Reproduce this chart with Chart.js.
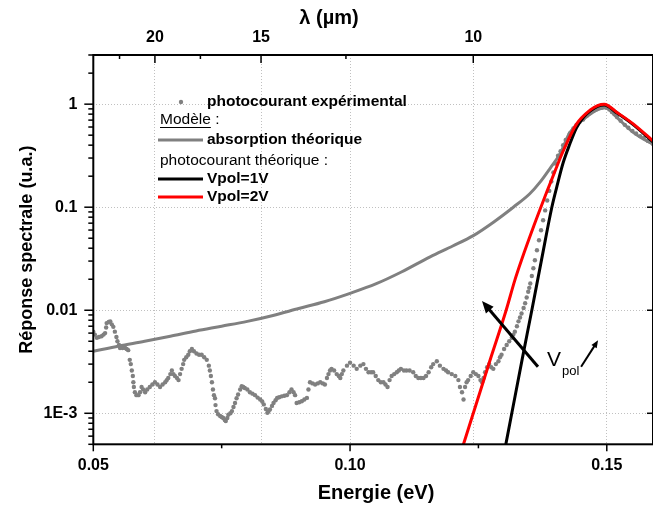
<!DOCTYPE html>
<html>
<head>
<meta charset="utf-8">
<script src="https://cdn.jsdelivr.net/npm/chart.js@4"></script>
<style>
  html, body { margin: 0; padding: 0; background: #fff; }
  canvas { display: block; }
</style>
</head>
<body>
<canvas id="graphe" width="653" height="509"></canvas>
<script>
// conversion E (eV) <-> lambda (um)
const HC = 1.24;

const energyTicks = [0.05, 0.10, 0.15];
const energyMinor = [0.075, 0.125];
const lambdaTicks = [20, 15, 10];
const lambdaMinor = [22.5, 17.5, 12.5];
const respTicks = [0.001, 0.01, 0.1, 1];
const respLabels = ["1E-3", "0.01", "0.1", "1"];

// photocourant experimental
const expEnergy = [
  0.0500, 0.0503, 0.0507, 0.0511, 0.0516, 0.0520, 0.0523, 0.0525, 0.0526, 0.0530,
  0.0533, 0.0536, 0.0539, 0.0542, 0.0545, 0.0547, 0.0550, 0.0552, 0.0557, 0.0562,
  0.0565, 0.0568, 0.0571, 0.0573, 0.0575, 0.0577, 0.0578, 0.0579, 0.0581, 0.0584,
  0.0588, 0.0591, 0.0594, 0.0597, 0.0601, 0.0605, 0.0610, 0.0615, 0.0620, 0.0625,
  0.0630, 0.0635, 0.0640, 0.0643, 0.0646, 0.0650, 0.0653, 0.0656, 0.0659, 0.0663,
  0.0666, 0.0669, 0.0672, 0.0675, 0.0677, 0.0681, 0.0685, 0.0688, 0.0692, 0.0696,
  0.0701, 0.0706, 0.0711, 0.0716, 0.0721, 0.0725, 0.0727, 0.0729, 0.0731, 0.0733,
  0.0735, 0.0737, 0.0738, 0.0740, 0.0743, 0.0747, 0.0750, 0.0753, 0.0756, 0.0758,
  0.0761, 0.0763, 0.0767, 0.0770, 0.0773, 0.0776, 0.0779, 0.0782, 0.0786, 0.0789,
  0.0792, 0.0795, 0.0800, 0.0805, 0.0810, 0.0815, 0.0820, 0.0825, 0.0829, 0.0832,
  0.0836, 0.0839, 0.0841, 0.0844, 0.0848, 0.0851, 0.0855, 0.0858, 0.0862, 0.0867,
  0.0872, 0.0877, 0.0882, 0.0886, 0.0890, 0.0893, 0.0896, 0.0901, 0.0906, 0.0911,
  0.0916, 0.0919, 0.0922, 0.0927, 0.0932, 0.0937, 0.0942, 0.0947, 0.0951, 0.0955,
  0.0958, 0.0961, 0.0964, 0.0969, 0.0974, 0.0978, 0.0981, 0.0984, 0.0987, 0.0994,
  0.1000, 0.1007, 0.1013, 0.1020, 0.1026, 0.1031, 0.1036, 0.1041, 0.1045, 0.1050,
  0.1055, 0.1060, 0.1065, 0.1069, 0.1073, 0.1077, 0.1081, 0.1086, 0.1091, 0.1095,
  0.1099, 0.1105, 0.1110, 0.1116, 0.1123, 0.1128, 0.1133, 0.1138, 0.1143, 0.1148,
  0.1153, 0.1158, 0.1162, 0.1169, 0.1175, 0.1182, 0.1187, 0.1191, 0.1198, 0.1205,
  0.1211, 0.1214, 0.1218, 0.1221, 0.1224, 0.1227, 0.1230, 0.1235, 0.1240, 0.1245,
  0.1250, 0.1254, 0.1257, 0.1260, 0.1263, 0.1267, 0.1271, 0.1275, 0.1279, 0.1284,
  0.1289, 0.1292, 0.1295, 0.1300, 0.1305, 0.1310, 0.1315, 0.1318, 0.1321, 0.1325,
  0.1328, 0.1331, 0.1334, 0.1338, 0.1341, 0.1344, 0.1347, 0.1349, 0.1351, 0.1354,
  0.1357, 0.1360, 0.1364, 0.1368, 0.1372, 0.1376, 0.1380, 0.1384, 0.1388, 0.1392,
  0.1396, 0.1400, 0.1405, 0.1410, 0.1415, 0.1420, 0.1428, 0.1435, 0.1441, 0.1447,
  0.1454, 0.1461, 0.1468, 0.1474, 0.1480, 0.1485, 0.1490, 0.1495, 0.1500, 0.1505,
  0.1510, 0.1515, 0.1520, 0.1527, 0.1535, 0.1542, 0.1550, 0.1557, 0.1565, 0.1572,
  0.1580, 0.1585, 0.1590
];
const expResp = [
  0.0062, 0.0058, 0.0054, 0.0055, 0.0056, 0.0058, 0.0060, 0.0068, 0.0075, 0.0077,
  0.0078, 0.0073, 0.0069, 0.0062, 0.0055, 0.0050, 0.0046, 0.0043, 0.0043, 0.0043,
  0.0042, 0.0041, 0.0033, 0.0030, 0.0026, 0.0023, 0.0020, 0.0018, 0.0016, 0.0015,
  0.0015, 0.0016, 0.0018, 0.0017, 0.0016, 0.0017, 0.0018, 0.0019, 0.0020, 0.0019,
  0.0018, 0.0019, 0.0020, 0.0021, 0.0022, 0.0024, 0.0026, 0.0024, 0.0023, 0.0022,
  0.0021, 0.0024, 0.0027, 0.0030, 0.0033, 0.0035, 0.0037, 0.0040, 0.0042, 0.0040,
  0.0038, 0.0037, 0.0037, 0.0035, 0.0033, 0.0029, 0.0026, 0.0023, 0.0020, 0.0017,
  0.0015, 0.0014, 0.0012, 0.00105, 0.00098, 0.00094, 0.00092, 0.00090, 0.00086, 0.00084,
  0.00090, 0.00097, 0.0010, 0.00105, 0.00115, 0.00126, 0.0014, 0.00152, 0.0017, 0.00183,
  0.0018, 0.00176, 0.0017, 0.0016, 0.00155, 0.0015, 0.00142, 0.00136, 0.0013, 0.00122,
  0.0011, 0.00101, 0.00104, 0.00109, 0.00118, 0.00126, 0.00134, 0.00141, 0.00143, 0.00146,
  0.00148, 0.0015, 0.0016, 0.0017, 0.0016, 0.0015, 0.00126, 0.00128, 0.00131, 0.00136,
  0.00141, 0.0017, 0.0020, 0.00195, 0.0019, 0.00195, 0.0020, 0.00195, 0.0019, 0.0022,
  0.0024, 0.0026, 0.0027, 0.0026, 0.0024, 0.0023, 0.0022, 0.0024, 0.0026, 0.0029,
  0.0031, 0.0029, 0.0027, 0.0029, 0.0030, 0.0027, 0.0025, 0.0025, 0.0025, 0.0023,
  0.0021, 0.0020, 0.0020, 0.0019, 0.0018, 0.0021, 0.0023, 0.0024, 0.0025, 0.0026,
  0.0027, 0.0026, 0.0026, 0.0026, 0.0025, 0.0023, 0.0022, 0.0022, 0.0022, 0.0023,
  0.0025, 0.0028, 0.0030, 0.0032, 0.0029, 0.0027, 0.0026, 0.0025, 0.0024, 0.0023,
  0.0021, 0.0018, 0.0016, 0.00136, 0.0018, 0.0020, 0.0021, 0.0023, 0.0025, 0.0024,
  0.0023, 0.0021, 0.0020, 0.0022, 0.0025, 0.0028, 0.0030, 0.0028, 0.0027, 0.0030,
  0.0032, 0.0035, 0.0037, 0.0042, 0.0046, 0.0050, 0.0054, 0.0058, 0.0062, 0.0070,
  0.0078, 0.0085, 0.0093, 0.0105, 0.0117, 0.0133, 0.0151, 0.0165, 0.0182, 0.0215,
  0.0256, 0.0306, 0.0382, 0.0478, 0.0597, 0.0746, 0.0931, 0.116, 0.144, 0.178,
  0.217, 0.265, 0.316, 0.35, 0.40, 0.45, 0.52, 0.58, 0.63, 0.67,
  0.71, 0.77, 0.82, 0.86, 0.89, 0.91, 0.92, 0.93, 0.92, 0.89,
  0.84, 0.80, 0.75, 0.69, 0.63, 0.59, 0.55, 0.52, 0.49, 0.47,
  0.44, 0.43, 0.41
];

// absorption theorique
const absEnergy = [0.05, 0.055, 0.06, 0.065, 0.07, 0.075, 0.08, 0.085, 0.09, 0.095,
  0.10, 0.105, 0.11, 0.1156, 0.12, 0.124, 0.128, 0.1318, 0.135, 0.137,
  0.139, 0.1409, 0.1428, 0.1454, 0.1487, 0.1497, 0.152, 0.1552, 0.1571, 0.159];
const absResp = [0.0040, 0.0045, 0.0050, 0.0056, 0.0063, 0.0070, 0.0078, 0.0089, 0.0104, 0.0121,
  0.0146, 0.018, 0.0235, 0.033, 0.042, 0.053, 0.072, 0.10, 0.135, 0.175,
  0.24, 0.33, 0.53, 0.71, 0.91, 0.93, 0.74, 0.53, 0.46, 0.41];

// photocourant theorique Vpol=1V
const v1Energy = [0.1302, 0.1315, 0.1335, 0.1354, 0.1373, 0.1393, 0.1403, 0.1415, 0.1428, 0.1441,
  0.1455, 0.1468, 0.1482, 0.1495, 0.152, 0.1552, 0.159];
const v1Resp = [0.00046, 0.001, 0.0033, 0.01, 0.031, 0.1, 0.16, 0.27, 0.41, 0.59,
  0.75, 0.86, 0.95, 0.98, 0.82, 0.63, 0.43];

// photocourant theorique Vpol=2V
const v2Energy = [0.1216, 0.124, 0.1272, 0.1304, 0.1321, 0.1334, 0.1358, 0.1383, 0.140, 0.1415,
  0.1441, 0.1468, 0.1482, 0.1495, 0.152, 0.1552, 0.159];
const v2Resp = [0.00042, 0.001, 0.0032, 0.010, 0.0196, 0.0307, 0.066, 0.14, 0.23, 0.35,
  0.64, 0.88, 0.97, 1.0, 0.83, 0.64, 0.44];

const pts = (xs, ys) => xs.map((v, i) => ({x: v, y: ys[i]}));

const GRIS = "#808080";
const FONT = "'Liberation Sans', Arial, sans-serif";

const decor = {
  id: "decor",
  afterDatasetsDraw(chart) {
    const {ctx, chartArea: a, scales} = chart;
    const x = scales.x, y = scales.y, xt = scales.xTop;
    ctx.save();
    ctx.strokeStyle = "#000";
    ctx.lineWidth = 1.5;
    const trait = (x1, y1, x2, y2) => { ctx.beginPath(); ctx.moveTo(x1, y1); ctx.lineTo(x2, y2); ctx.stroke(); };

    energyTicks.forEach(v => { const p = x.getPixelForValue(v); trait(p, a.bottom, p, a.bottom + 7); });
    energyMinor.forEach(v => { const p = x.getPixelForValue(v); trait(p, a.bottom, p, a.bottom + 4); });
    lambdaTicks.forEach(l => { const p = xt.getPixelForValue(HC / l); trait(p, a.top, p, a.top + 8); });
    lambdaMinor.forEach(l => { const p = xt.getPixelForValue(HC / l); trait(p, a.top, p, a.top + 4); });
    for (let e = -4; e <= 0; e++) {
      for (let k = 1; k <= 9; k++) {
        const v = k * Math.pow(10, e);
        if (v < y.min || v > y.max * 1.0001) continue;
        const p = y.getPixelForValue(v);
        trait(a.left - (k === 1 ? 9 : 5), p, a.left, p);
        if (k === 1) trait(a.right - 6, p, a.right, p);
      }
    }
    ctx.lineWidth = 2;
    ctx.strokeRect(a.left, a.top, a.right - a.left, a.bottom - a.top);

    // titres
    ctx.fillStyle = "#000";
    ctx.textAlign = "center";
    ctx.textBaseline = "middle";
    ctx.font = "bold 20px " + FONT;
    ctx.fillText("Energie (eV)", 376, 493);
    ctx.fillText("λ (µm)", 329, 18);
    ctx.font = "bold 18px " + FONT;
    ctx.save();
    ctx.translate(27, (a.top + a.bottom) / 2);
    ctx.rotate(-Math.PI / 2);
    ctx.fillText("Réponse spectrale (u.a.)", 0, 0);
    ctx.restore();

    // legende
    ctx.textAlign = "left";
    ctx.font = "bold 15.5px " + FONT;
    ctx.fillStyle = GRIS;
    ctx.beginPath(); ctx.arc(181, 102, 2.2, 0, 2 * Math.PI); ctx.fill();
    ctx.fillStyle = "#000";
    ctx.fillText("photocourant expérimental", 207, 102);
    ctx.font = "15.5px " + FONT;
    ctx.fillText("Modèle :", 160, 120);
    const wMod = ctx.measureText("Modèle").width;
    ctx.lineWidth = 1;
    trait(160, 127.5, 160 + wMod, 127.5);
    ctx.fillText("photocourant théorique :", 160, 161);
    const ligne = (yy, col) => { ctx.strokeStyle = col; ctx.lineWidth = 3; trait(158, yy, 203, yy); };
    ligne(140, GRIS);
    ligne(179, "#000");
    ligne(197, "#f00");
    ctx.font = "bold 15.5px " + FONT;
    ctx.fillText("absorption théorique", 207, 140);
    ctx.fillText("Vpol=1V", 207, 179);
    ctx.fillText("Vpol=2V", 207, 197);

    // fleches Vpol
    const fleche = (x1, y1, x2, y2, w, L) => {
      const px1 = x.getPixelForValue(x1), py1 = y.getPixelForValue(y1);
      const px2 = x.getPixelForValue(x2), py2 = y.getPixelForValue(y2);
      const ang = Math.atan2(py2 - py1, px2 - px1);
      ctx.strokeStyle = "#000"; ctx.fillStyle = "#000"; ctx.lineWidth = w;
      trait(px1, py1, px2 - Math.cos(ang) * L * 0.6, py2 - Math.sin(ang) * L * 0.6);
      ctx.beginPath();
      ctx.moveTo(px2, py2);
      ctx.lineTo(px2 - L * Math.cos(ang - 0.4), py2 - L * Math.sin(ang - 0.4));
      ctx.lineTo(px2 - L * Math.cos(ang + 0.4), py2 - L * Math.sin(ang + 0.4));
      ctx.closePath(); ctx.fill();
    };
    fleche(0.1366, 0.00283, 0.1257, 0.0123, 3, 13);
    fleche(0.1450, 0.00283, 0.1483, 0.0051, 2, 8);

    ctx.fillStyle = "#000";
    ctx.textBaseline = "alphabetic";
    ctx.font = "21px " + FONT;
    ctx.fillText("V", 547, 366);
    ctx.font = "13px " + FONT;
    ctx.fillText("pol", 562, 375);
    ctx.restore();
  }
};

new Chart(document.getElementById("graphe"), {
  type: "line",
  data: {
    datasets: [
      {
        label: "photocourant expérimental",
        data: pts(expEnergy, expResp),
        showLine: false,
        pointRadius: 2.2,
        pointBackgroundColor: GRIS,
        pointBorderWidth: 0,
        order: 4
      },
      {
        label: "absorption théorique",
        data: pts(absEnergy, absResp),
        borderColor: GRIS,
        borderWidth: 3,
        pointRadius: 0,
        cubicInterpolationMode: "monotone",
        order: 3
      },
      {
        label: "Vpol=1V",
        data: pts(v1Energy, v1Resp),
        borderColor: "#000",
        borderWidth: 3,
        pointRadius: 0,
        cubicInterpolationMode: "monotone",
        order: 2
      },
      {
        label: "Vpol=2V",
        data: pts(v2Energy, v2Resp),
        borderColor: "#f00",
        borderWidth: 3,
        pointRadius: 0,
        cubicInterpolationMode: "monotone",
        order: 1
      }
    ]
  },
  options: {
    responsive: false,
    animation: false,
    devicePixelRatio: 1,
    layout: { autoPadding: false, padding: 0 },
    plugins: { legend: { display: false }, tooltip: { enabled: false } },
    scales: {
      x: {
        type: "linear",
        position: "bottom",
        min: 0.05,
        max: 0.159,
        afterBuildTicks: s => { s.ticks = energyTicks.map(v => ({value: v})); },
        afterFit: s => { s.height = 64.7; },
        ticks: {
          autoSkip: false, maxRotation: 0, padding: 12, color: "#000",
          font: { family: FONT, size: 16, weight: "bold" },
          callback: v => v.toFixed(2)
        },
        grid: { color: "#c0c0c0", lineWidth: 1, drawTicks: false },
        border: { display: false, dash: [1, 2] }
      },
      xTop: {
        type: "linear",
        position: "top",
        min: 0.05,
        max: 0.159,
        afterBuildTicks: s => { s.ticks = lambdaTicks.map(l => ({value: HC / l})); },
        afterFit: s => { s.height = 55; },
        ticks: {
          autoSkip: false, maxRotation: 0, padding: 8, color: "#000",
          font: { family: FONT, size: 16, weight: "bold" },
          callback: v => String(Math.round(HC / v))
        },
        grid: { color: "#c0c0c0", lineWidth: 1, drawTicks: false },
        border: { display: false, dash: [1, 2] }
      },
      y: {
        type: "logarithmic",
        position: "left",
        min: 0.0005,
        max: 3,
        afterBuildTicks: s => { s.ticks = respTicks.map(v => ({value: v})); },
        afterFit: s => { s.width = 93.3; },
        ticks: {
          autoSkip: false, padding: 16, color: "#000",
          font: { family: FONT, size: 16, weight: "bold" },
          callback: (v, i) => respLabels[i]
        },
        grid: { color: "#c0c0c0", lineWidth: 1, drawTicks: false },
        border: { display: false, dash: [1, 2] }
      }
    }
  },
  plugins: [decor]
});
</script>
</body>
</html>
